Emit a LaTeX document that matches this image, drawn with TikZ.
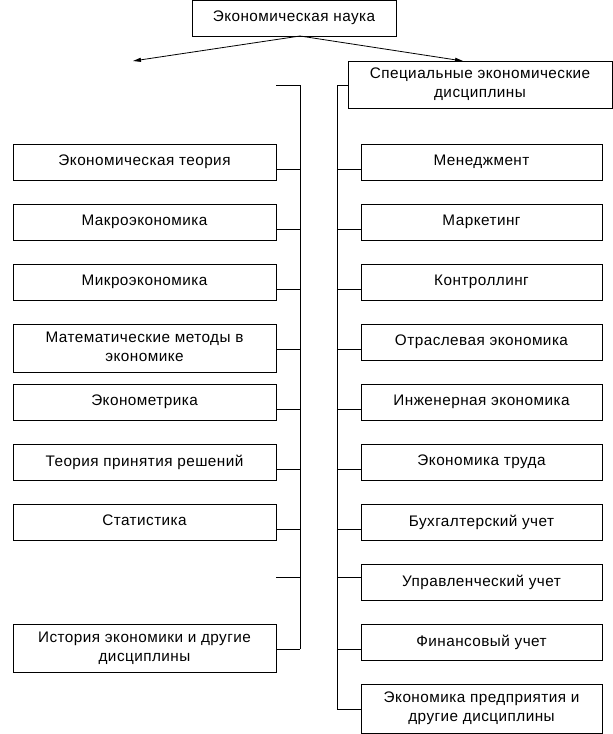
\documentclass[tikz,border=0pt]{standalone}
\usepackage{fontspec}
\setmainfont{Liberation Sans}[LetterSpace=3]
\usetikzlibrary{arrows.meta,calc}
\begin{document}
\begin{tikzpicture}[x=1pt,y=-1pt,
  line width=1pt,
  box/.style={draw, rectangle, anchor=north west, inner sep=0pt, outer sep=0pt,
    align=center, font=\fontsize{15.3}{19}\selectfont, text depth=3pt},
  lbox/.style={box, minimum width=263pt, minimum height=36pt},
  lbox2/.style={box, minimum width=263pt, minimum height=48pt},
  rbox/.style={box, minimum width=241pt, minimum height=36pt},
  rbox2/.style={box, minimum width=241pt, minimum height=49pt},
  conn/.style={line width=1pt},
  arr/.style={-{Triangle[length=8pt,width=4pt]}, line width=0.8pt}
]
\useasboundingbox (0,0) rectangle (613,734);

% top
\node[box, minimum width=204pt, minimum height=36pt] (top) at (192,0) {Экономическая наука};
\node[box, minimum width=264pt, minimum height=47pt] (spec) at (348,61) {Специальные экономические\\дисциплины};

\coordinate (apex) at (300,36);
\coordinate (ltip) at (133,61);
\coordinate (rtip) at (463,61);
\draw[arr] (apex) -- (ltip);
\draw[arr] (apex) -- (rtip);

% left column
\node[lbox] (L1) at (13,144) {Экономическая теория};
\node[lbox] (L2) at (13,204) {Макроэкономика};
\node[lbox] (L3) at (13,264) {Микроэкономика};
\node[lbox2] (L4) at (13,324) {Математические методы в\\экономике};
\node[lbox] (L5) at (13,384) {Эконометрика};
\node[lbox] (L6) at (13,444) {Теория принятия решений};
\node[lbox] (L7) at (13,504) {Статистика};
\node[lbox2] (L8) at (13,624) {История экономики и другие\\дисциплины};

% right column
\node[rbox] (R1) at (361,144) {Менеджмент};
\node[rbox] (R2) at (361,204) {Маркетинг};
\node[rbox] (R3) at (361,264) {Контроллинг};
\node[rbox] (R4) at (361,324) {Отраслевая экономика};
\node[rbox] (R5) at (361,384) {Инженерная экономика};
\node[rbox] (R6) at (361,444) {Экономика труда};
\node[rbox] (R7) at (361,504) {Бухгалтерский учет};
\node[rbox] (R8) at (361,564) {Управленческий учет};
\node[rbox] (R9) at (361,624) {Финансовый учет};
\node[rbox2] (R10) at (361,684) {Экономика предприятия и\\другие дисциплины};

% trunks
\coordinate (ltop) at (300,85);
\coordinate (lstubL) at (276,85);
\coordinate (lbot) at (300,649);
\coordinate (rtop) at (337,85);
\coordinate (rbot) at (337,709);
\coordinate (lfree) at (276,577);
\draw[conn] (lstubL) -- (ltop) -- (lbot);
\draw[conn] (spec.west |- rtop) -- (rtop) -- (rbot);

% left connectors
\foreach \n in {L1,L2,L3,L4,L5,L6,L7,L8}{
  \draw[conn] ([yshift=-25pt]\n.north east) -- ([yshift=-25pt]\n.north east -| ltop);
}
\draw[conn] (lfree) -- (lfree -| ltop);

% right connectors
\foreach \n in {R1,R2,R3,R4,R5,R6,R7,R9,R10}{
  \draw[conn] ([yshift=-25pt]\n.north west) -- ([yshift=-25pt]\n.north west -| rtop);
}
\draw[conn] ([yshift=-13pt]R8.north west) -- ([yshift=-13pt]R8.north west -| rtop);
\end{tikzpicture}
\end{document}
